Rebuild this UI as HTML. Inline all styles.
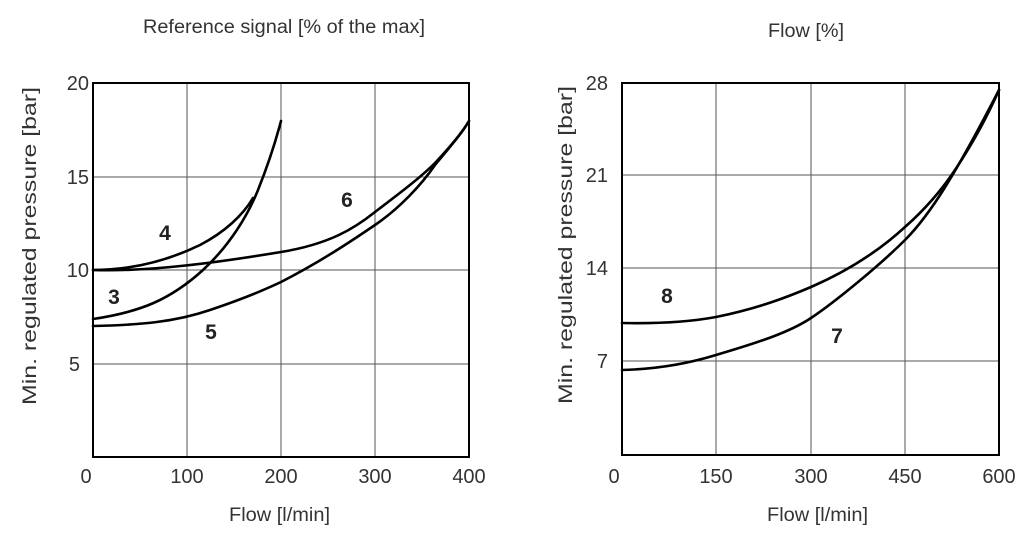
<!DOCTYPE html>
<html><head><style>
html,body{margin:0;padding:0;background:#fff;}
svg{display:block;font-family:"Liberation Sans",sans-serif;}
</style></head><body>
<svg width="1024" height="537" viewBox="0 0 1024 537">
<g stroke="#555" stroke-width="1" fill="none">
<line x1="187" y1="83" x2="187" y2="457"/><line x1="281" y1="83" x2="281" y2="457"/><line x1="375" y1="83" x2="375" y2="457"/>
<line x1="93" y1="177" x2="469" y2="177"/><line x1="93" y1="270" x2="469" y2="270"/><line x1="93" y1="364" x2="469" y2="364"/>
<line x1="716" y1="83" x2="716" y2="455"/><line x1="811" y1="83" x2="811" y2="455"/><line x1="905" y1="83" x2="905" y2="455"/>
<line x1="622" y1="175" x2="999" y2="175"/><line x1="622" y1="268" x2="999" y2="268"/><line x1="622" y1="361" x2="999" y2="361"/>
</g>
<rect x="93" y="83" width="376" height="374" fill="none" stroke="#000" stroke-width="2"/>
<rect x="622" y="83" width="377" height="372" fill="none" stroke="#000" stroke-width="2"/>
<g stroke="#000" stroke-width="2.6" fill="none" stroke-linecap="round">
<path d="M93,270 C130,270 165,262 200,245 C225,232 243,215 253,198"/>
<path d="M93,319 C140,312 170,300 203,270 C230,245 248,215 258,190 C268,165 276,140 281,121"/>
<path d="M93,270 C150,272 220,262 281,252 C330,244 355,228 375,212 C400,193 420,178 435,163 C450,147 462,133 469,121"/>
<path d="M93,326 C140,325 175,322 210,310 C240,300 260,292 281,282 C320,262 350,242 375,225 C400,208 422,184 435,165 C450,147 462,133 469,121"/>
<path d="M622,323 C670,324 700,320 716,317 C760,308 790,296 811,287 C850,270 880,250 905,227 C930,205 945,185 955,170 C975,140 988,115 999,90"/>
<path d="M622,370 C660,369 690,363 716,355 C760,342 790,332 811,318 C835,302 880,265 905,240 C930,215 955,175 999,90"/>
</g>
<g font-size="20" fill="#333" text-anchor="end">
<text x="89" y="90">20</text><text x="89" y="184">15</text><text x="89" y="277">10</text><text x="80" y="371">5</text>
<text x="608" y="90">28</text><text x="608" y="182">21</text><text x="608" y="275">14</text><text x="608" y="368">7</text>
</g>
<g font-size="20" fill="#333" text-anchor="middle">
<text x="86" y="483">0</text><text x="187" y="483">100</text><text x="281" y="483">200</text><text x="375" y="483">300</text><text x="469" y="483">400</text>
<text x="614" y="483">0</text><text x="716" y="483">150</text><text x="811" y="483">300</text><text x="905" y="483">450</text><text x="999" y="483">600</text>
</g>
<g font-size="19" fill="#333">
<text x="143" y="33" textLength="282" lengthAdjust="spacingAndGlyphs">Reference signal [% of the max]</text>
<text x="768" y="37" textLength="76" lengthAdjust="spacingAndGlyphs">Flow [%]</text>
<text x="229" y="521" textLength="101" lengthAdjust="spacingAndGlyphs">Flow [l/min]</text>
<text x="767" y="521" textLength="101" lengthAdjust="spacingAndGlyphs">Flow [l/min]</text>
<text transform="translate(36,405) rotate(-90)" textLength="318" lengthAdjust="spacingAndGlyphs">Min. regulated pressure [bar]</text>
<text transform="translate(572,404) rotate(-90)" textLength="318" lengthAdjust="spacingAndGlyphs">Min. regulated pressure [bar]</text>
</g>
<g font-size="21" font-weight="bold" fill="#222" text-anchor="middle">
<text x="165" y="240">4</text><text x="114" y="304">3</text><text x="211" y="339">5</text><text x="347" y="207">6</text>
<text x="667" y="303">8</text><text x="837" y="343">7</text>
</g>
</svg>
</body></html>
